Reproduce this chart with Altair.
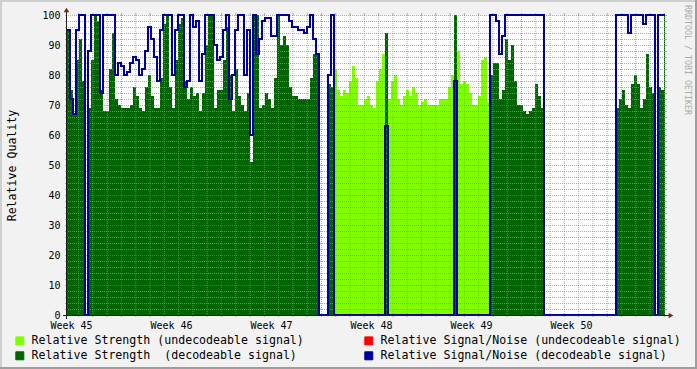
import altair as alt
import pandas as pd

FONT = "DejaVu Sans Mono"

# time axis (days since Monday of week 45), one sample every 0.21 day
SAMPLE_START_DAY = 3.22
SAMPLE_STEP_DAYS = 0.21
X_END_DAY = 45.08

# Relative strength (None = no data)
STRENGTH = [
    95, 75, 67, 85, 92, 78, None, 69, 85, 100,
    98, 75, 68, 68, 82, 94, 72, 70, 69, 69,
    69, 70, 76, 73, 69, 68, 76, 80, 73, 69,
    69, 79, 97, 100, 76, 69, 85, 97, 99, 78,
    72, 76, 73, 74, 68, 74, 90, 100, 100, 69,
    75, 75, 85, 96, 80, 68, 82, 73, 70, 68,
    74, 51, 100, 100, 69, 70, 74, 72, 69, 79,
    100, 90, 93, 90, 76, 73, 73, 72, 72, 72,
    72, 79, 87, 87, None, None, None, 77, 76, 82,
    75, 73, 75, 74, 78, 83, 79, 70, 70, 72,
    73, 70, 69, 78, 82, 87, 94, 72, 78, 80,
    72, 70, 73, 75, 73, 76, 74, 70, 71, 72,
    70, 70, 70, 70, 72, 72, 72, 76, 80, 100,
    88, 77, 78, 77, 74, 70, 70, 73, 85, 86,
    71, 80, 84, 84, 72, 75, 92, 85, 90, 78,
    70, 70, 68, 67, 68, 69, 77, 73, 69, None,
    None, None, None, None, None, None, None, None, None, None,
    None, None, None, None, None, None, None, None, None, None,
    None, None, None, 69, 72, 75, 70, 69, 77, 80,
    77, 69, 72, 87, 76, 74, None, 76, 75, 100,
]

# Relative signal/noise of decoded signal (0 = not decodeable)
SNR = [
    95, 72, 67, 95, 100, 100, 0, 88, 100, 100,
    100, 74, 100, 100, 100, 100, 80, 84, 83, 80,
    81, 84, 86, 85, 80, 82, 88, 96, 92, 86,
    78, 95, 100, 100, 100, 80, 95, 100, 100, 76,
    78, 100, 96, 98, 78, 87, 100, 100, 100, 90,
    85, 86, 95, 100, 72, 80, 95, 100, 100, 80,
    95, 60, 100, 87, 92, 98, 99, 99, 93, 93,
    100, 100, 100, 100, 98, 96, 96, 95, 95, 94,
    96, 100, 92, 87, 0, 0, 0, 80, 100, 0,
    0, 0, 0, 0, 0, 0, 0, 0, 0, 0,
    0, 0, 0, 0, 0, 0, 63, 0, 0, 0,
    0, 0, 0, 0, 0, 0, 0, 0, 0, 0,
    0, 0, 0, 0, 0, 0, 0, 0, 0, 78,
    0, 0, 0, 0, 0, 0, 0, 0, 0, 0,
    0, 100, 100, 98, 87, 93, 100, 100, 100, 100,
    100, 100, 100, 100, 100, 100, 100, 100, 100, 0,
    0, 0, 0, 0, 0, 0, 0, 0, 0, 0,
    0, 0, 0, 0, 0, 0, 0, 0, 0, 0,
    0, 0, 0, 100, 100, 100, 100, 94, 100, 100,
    100, 100, 97, 100, 100, 100, 0, 100, 100, 100,
]

SERIES = [
    "Relative Strength (undecodeable signal)",
    "Relative Signal/Noise (undecodeable signal)",
    "Relative Strength\u00a0 (decodeable signal)",
    "Relative Signal/Noise (decodeable signal)",
]
COLORS = ["#7FFF00", "#FF0000", "#006400", "#000099"]

WEEK_LABELS = ["Week 45", "Week 46", "Week 47", "Week 48", "Week 49", "Week 50"]
WEEK_LABEL_DAYS = [3.5, 10.5, 17.5, 24.5, 31.5, 38.5]
MAJOR_X_DAYS = [7, 14, 21, 28, 35, 42]
MINOR_X_DAYS = [d for d in range(4, 46) if d % 7]
Y_LABELS = list(range(0, 101, 10))
MAJOR_Y = list(range(10, 101, 10))
MINOR_Y = [v for v in range(2, 100, 2) if v % 10]

# ---------------------------------------------------------------- data table
rows = []
n = len(STRENGTH)
for i in range(n + 1):
    k = min(i, n - 1)
    s, q = STRENGTH[k], SNR[k]
    day = SAMPLE_START_DAY + SAMPLE_STEP_DAYS * i if i < n else X_END_DAY
    dec = s is not None and q > 0
    und = s is not None and q == 0
    rows.append({"day": day, "dark": s if dec else 0, "light": s if und else 0, "snr": q})
df = pd.DataFrame(rows)

xscale = alt.Scale(domain=[SAMPLE_START_DAY, X_END_DAY], nice=False, zero=False)
yscale = alt.Scale(domain=[0, 100], nice=False, zero=True)
cscale = alt.Scale(domain=SERIES, range=COLORS)

label_expr = "[" + ",".join("'%s'" % w for w in WEEK_LABELS) + "][round((datum.value - 3.5) / 7)]"

X_AXIS = alt.Axis(values=WEEK_LABEL_DAYS, labelExpr=label_expr, ticks=False, tickSize=0,
                  domain=False, grid=False, title=None, labelFont=FONT, labelFontSize=10,
                  labelColor="black", labelPadding=5, labelAlign="center", zindex=2)
Y_AXIS = alt.Axis(values=Y_LABELS, ticks=False, tickSize=0, domain=False, grid=False,
                  title="Relative Quality", titleFont=FONT, titleFontSize=11.6,
                  titleFontWeight="normal", titleColor="black", titleX=-55, titleY=150,
                  titleAngle=270, titleAlign="center", titleBaseline="middle",
                  labelFont=FONT, labelFontSize=10, labelColor="black", labelPadding=7,
                  labelBaseline="middle", zindex=2)

legend = alt.Legend(title=None, orient="none", legendX=-53, legendY=320, direction="horizontal",
                    columns=2, columnPadding=58, rowPadding=2, symbolType="square",
                    symbolSize=64, symbolStrokeColor="black", symbolStrokeWidth=1,
                    symbolOpacity=1, labelFont=FONT, labelFontSize=11.6, labelColor="black",
                    labelLimit=500, labelOffset=6, padding=0)


def X(field):
    return alt.X(field, scale=xscale, axis=X_AXIS, title=None)


def Y(field, **kw):
    return alt.Y(field, scale=yscale, axis=Y_AXIS, title="Relative Quality", **kw)


base = alt.Chart(df)

dark = base.transform_calculate(series="'%s'" % SERIES[2]).mark_area(
    interpolate="step-after").encode(
    x=X("day:Q"), y=Y("dark:Q", stack=None),
    color=alt.Color("series:N", scale=cscale, legend=legend),
)
light = base.transform_calculate(series="'%s'" % SERIES[0]).mark_area(
    interpolate="step-after").encode(
    x=X("day:Q"), y=Y("light:Q", stack=None),
    color=alt.Color("series:N", scale=cscale, legend=legend),
)
snr_line = base.transform_calculate(series="'%s'" % SERIES[3]).mark_line(
    interpolate="step-after", strokeWidth=2).encode(
    x=X("day:Q"), y=Y("snr:Q"),
    color=alt.Color("series:N", scale=cscale, legend=legend),
)

GRID_C, GRID_O = "#8F8F8F", 0.75
MGRID_C, MGRID_O = "#DE4F4F", 0.6


def hgrid(vals, color, op):
    d = pd.DataFrame({"v": vals})
    line = alt.Chart(d).mark_rule(color=color, opacity=op, strokeDash=[1, 1], strokeWidth=1,
                                  yOffset=0.5).encode(y=Y("v:Q"))
    stub_l = alt.Chart(d).mark_rule(color=color, opacity=op, strokeWidth=1, yOffset=0.5).encode(
        y=Y("v:Q"), x=alt.value(-2), x2=alt.value(0))
    stub_r = alt.Chart(d).mark_rule(color=color, opacity=op, strokeWidth=1, yOffset=0.5).encode(
        y=Y("v:Q"), x=alt.value(598), x2=alt.value(600))
    return [line, stub_l, stub_r]


def vgrid(vals, color, op):
    d = pd.DataFrame({"v": vals})
    line = alt.Chart(d).mark_rule(color=color, opacity=op, strokeDash=[1, 1], strokeWidth=1,
                                  xOffset=0.5).encode(x=X("v:Q"))
    stub_b = alt.Chart(d).mark_rule(color=color, opacity=op, strokeWidth=1, xOffset=0.5).encode(
        x=X("v:Q"), y=alt.value(300), y2=alt.value(302))
    stub_t = alt.Chart(d).mark_rule(color=color, opacity=op, strokeWidth=1, xOffset=0.5).encode(
        x=X("v:Q"), y=alt.value(-2), y2=alt.value(0))
    return [line, stub_b, stub_t]


one = pd.DataFrame({"k": [0]})
AXIS_C = "#1F1F1F"
x_axis_line = alt.Chart(one).mark_rule(color=AXIS_C, strokeWidth=1).encode(
    x=alt.value(-4), x2=alt.value(604), y=alt.value(300.5))
y_axis_line = alt.Chart(one).mark_rule(color=AXIS_C, strokeWidth=1).encode(
    x=alt.value(-0.5), y=alt.value(304), y2=alt.value(-4))
arrow_x = alt.Chart(one).mark_point(shape="triangle-right", filled=True, size=30,
                                    color="#7F1F1F", opacity=1).encode(
    x=alt.value(604), y=alt.value(300.5))
arrow_y = alt.Chart(one).mark_point(shape="triangle-up", filled=True, size=30,
                                    color="#7F1F1F", opacity=1).encode(
    x=alt.value(-0.5), y=alt.value(-5))
watermark = alt.Chart(one).mark_text(text="RRDTOOL / TOBI OETIKER", font=FONT, fontSize=8.3,
                                     angle=90, align="left", baseline="middle",
                                     color="#AAAAAA").encode(x=alt.value(620), y=alt.value(-10))

border = [
    alt.Chart(one).mark_rule(color="#CFCFCF", strokeWidth=2).encode(
        x=alt.value(-67), x2=alt.value(630), y=alt.value(-14)),
    alt.Chart(one).mark_rule(color="#CFCFCF", strokeWidth=2).encode(
        x=alt.value(-66), y=alt.value(-15), y2=alt.value(354)),
    alt.Chart(one).mark_rule(color="#9E9E9E", strokeWidth=2).encode(
        x=alt.value(-67), x2=alt.value(630), y=alt.value(353)),
    alt.Chart(one).mark_rule(color="#9E9E9E", strokeWidth=2).encode(
        x=alt.value(629), y=alt.value(-15), y2=alt.value(354)),
]

layers = [dark, light]
layers += hgrid(MINOR_Y, GRID_C, GRID_O) + vgrid(MINOR_X_DAYS, GRID_C, GRID_O)
layers += hgrid(MAJOR_Y, MGRID_C, MGRID_O) + vgrid(MAJOR_X_DAYS, MGRID_C, MGRID_O)
layers += [snr_line, x_axis_line, y_axis_line, arrow_x, arrow_y, watermark] + border

chart = alt.layer(*layers).properties(
    width=598, height=300,
    padding={"left": 67, "top": 15, "right": 32, "bottom": 54},
    autosize=alt.AutoSizeParams(type="none"),
    background="#F2F2F2",
).configure_view(strokeOpacity=0, fill="white")

chart.save("out.html", embed_options={"renderer": "svg", "actions": False})
